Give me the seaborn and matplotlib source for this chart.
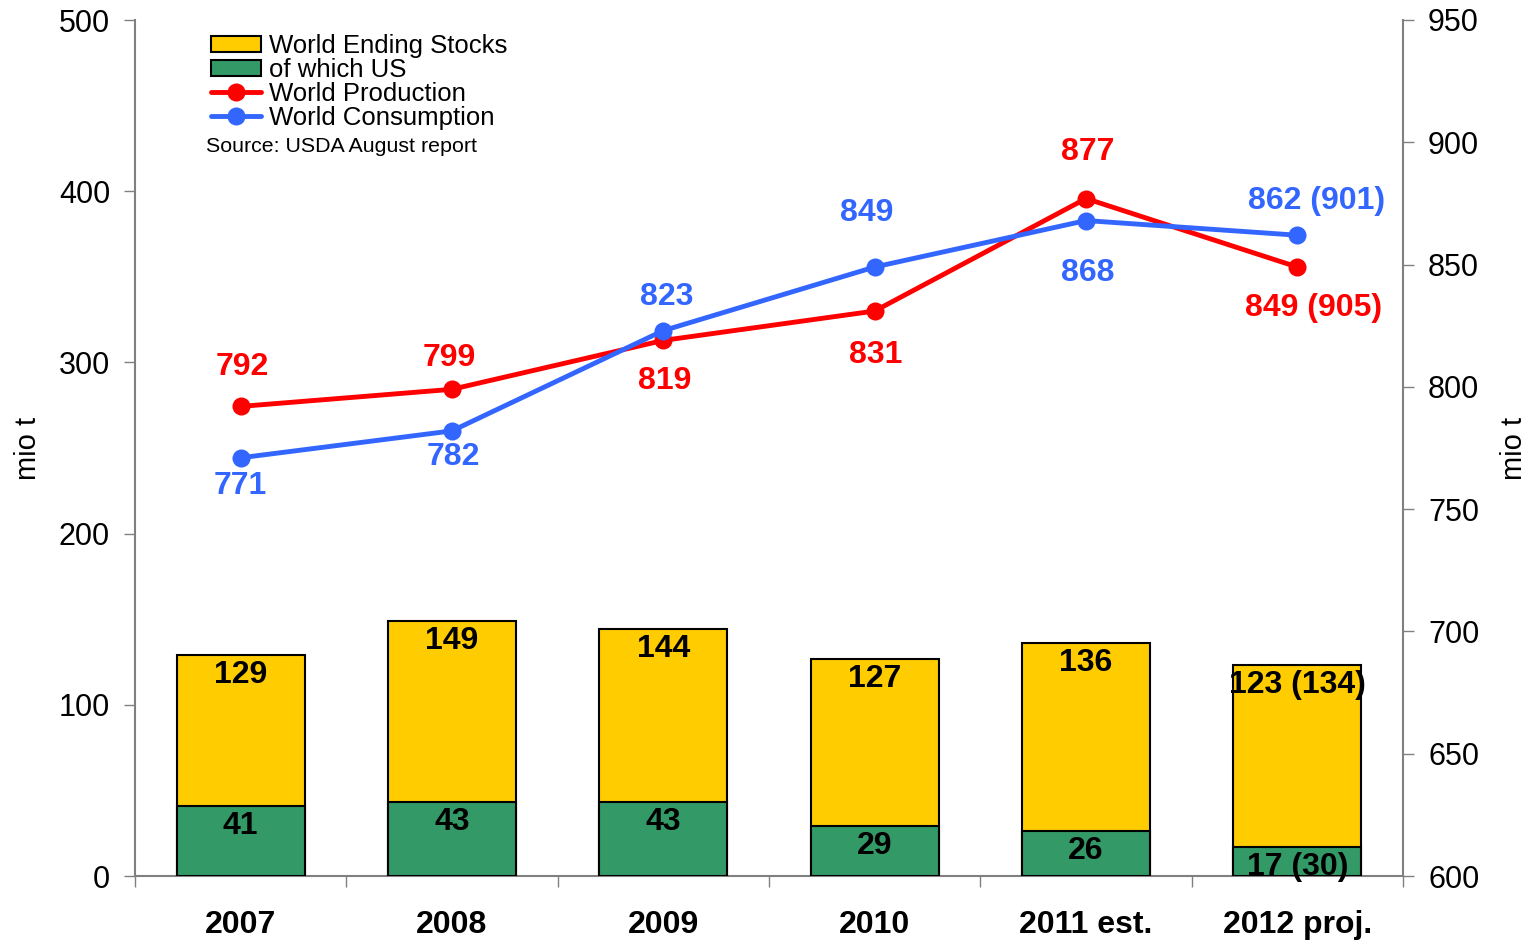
import matplotlib
matplotlib.use("Agg")
import matplotlib.pyplot as plt
import seaborn as sns
import numpy as np
import pandas as pd
from matplotlib.patches import Patch
from matplotlib.lines import Line2D

years = ["2007", "2008", "2009", "2010", "2011 est.", "2012 proj."]
world_stocks = [129, 149, 144, 127, 136, 123]
us_stocks = [41, 43, 43, 29, 26, 17]
world_stock_labels = ["129", "149", "144", "127", "136", "123 (134)"]
us_stock_labels = ["41", "43", "43", "29", "26", "17 (30)"]
production = [792, 799, 819, 831, 877, 849]
consumption = [771, 782, 823, 849, 868, 862]
production_labels = ["792", "799", "819", "831", "877", "849 (905)"]
consumption_labels = ["771", "782", "823", "849", "868", "862 (901)"]

# label offsets in pixels (dx, dy) - layout only
prod_off = [(2, 39), (-3, 31), (1, -41), (1, -44), (2, 47), (16, -41)]
cons_off = [(0, -28), (1, -26), (3, 34), (-8, 54), (2, -52), (19, 34)]

sns.set_theme(style="white")
plt.rcParams['font.family'] = ['Liberation Sans', 'DejaVu Sans']
plt.rcParams['text.color'] = 'black'
plt.rcParams['axes.labelcolor'] = 'black'
plt.rcParams['xtick.color'] = 'black'
plt.rcParams['ytick.color'] = 'black'

YELLOW = "#FFCC00"
GREEN = "#339966"
RED = "#FF0000"
BLUE = "#3366FF"
GREY = "#808080"

FS = 23

fig = plt.figure(figsize=(15.3, 9.4), dpi=100)
ax = fig.add_axes([135/1530, 1-876/940, (1403-135)/1530, (876-20)/940])

df = pd.DataFrame({"year": years, "world": world_stocks, "us": us_stocks})
sns.barplot(data=df, x="year", y="world", color=YELLOW, width=0.605,
            edgecolor="black", linewidth=1.5, saturation=1, ax=ax, zorder=2)
sns.barplot(data=df, x="year", y="us", color=GREEN, width=0.605,
            edgecolor="black", linewidth=1.5, saturation=1, ax=ax, zorder=3)

ax.set_xlim(-0.5, 5.5)
ax.set_ylim(0, 500)
ax.set_yticks([0, 100, 200, 300, 400, 500])
ax.set_xlabel("")
ax.set_ylabel("mio t", fontsize=21, labelpad=12)
ax.set_xticks([])
ax.set_xticks(np.arange(-0.5, 6.0, 1.0), minor=True)
for i, y in enumerate(years):
    ax.text(i, -0.057, y, transform=ax.get_xaxis_transform(), ha="center",
            va="center", fontsize=FS, fontweight="bold")
ax.tick_params(axis="x", which="minor", length=8, width=1, color=GREY, direction="out", bottom=True)
ax.tick_params(axis="y", length=8, width=1, color=GREY, direction="out", left=True,
               labelsize=22, pad=10, labelcolor="black")

for s in ["top", "right"]:
    ax.spines[s].set_visible(False)
for s in ["left", "bottom"]:
    ax.spines[s].set_color(GREY)
    ax.spines[s].set_linewidth(1.5)

for i in range(len(years)):
    ax.annotate(world_stock_labels[i], (i, world_stocks[i]), xytext=(0, -20),
                textcoords="offset pixels", ha="center", va="center",
                fontsize=FS, fontweight="bold", zorder=5)
    ax.annotate(us_stock_labels[i], (i, us_stocks[i]), xytext=(0, -20),
                textcoords="offset pixels", ha="center", va="center",
                fontsize=FS, fontweight="bold", zorder=5)

ax2 = ax.twinx()
ldf = pd.DataFrame({"x": np.arange(len(years)), "prod": production, "cons": consumption})
sns.lineplot(data=ldf, x="x", y="prod", color=RED, linewidth=3.5, marker="o",
             markersize=13, markeredgewidth=0, ax=ax2, zorder=4)
sns.lineplot(data=ldf, x="x", y="cons", color=BLUE, linewidth=3.5, marker="o",
             markersize=13, markeredgewidth=0, ax=ax2, zorder=4)
ax2.set_xlim(-0.5, 5.5)
ax2.set_ylim(600, 950)
ax2.set_yticks(range(600, 951, 50))
ax2.set_xlabel("")
ax2.set_ylabel("mio t", fontsize=21, labelpad=15)
ax2.tick_params(axis="y", length=8, width=1, color=GREY, direction="out", right=True,
                labelsize=22, pad=10, labelcolor="black")
for s in ["top", "left", "bottom"]:
    ax2.spines[s].set_visible(False)
ax2.spines["right"].set_color(GREY)
ax2.spines["right"].set_linewidth(1.5)

for i in range(len(years)):
    dx, dy = prod_off[i]
    ax2.annotate(production_labels[i], (i, production[i]), xytext=(dx, dy),
                 textcoords="offset pixels", ha="center", va="center",
                 fontsize=FS, fontweight="bold", color=RED)
    dx, dy = cons_off[i]
    ax2.annotate(consumption_labels[i], (i, consumption[i]), xytext=(dx, dy),
                 textcoords="offset pixels", ha="center", va="center",
                 fontsize=FS, fontweight="bold", color=BLUE)

handles = [
    Patch(facecolor=YELLOW, edgecolor="black", linewidth=1.5),
    Patch(facecolor=GREEN, edgecolor="black", linewidth=1.5),
    Line2D([], [], color=RED, linewidth=3.5, marker="o", markersize=13, markeredgewidth=0),
    Line2D([], [], color=BLUE, linewidth=3.5, marker="o", markersize=13, markeredgewidth=0),
]
labels = ["World Ending Stocks", "of which US", "World Production", "World Consumption"]
leg = ax2.legend(handles, labels, loc="upper left", bbox_to_anchor=(0.049, 1.0),
                 frameon=False, fontsize=18.5, handlelength=1.95, handleheight=0.62,
                 handletextpad=0.3, labelspacing=0.0, borderpad=0.25, borderaxespad=0.3)
ax2.text(0.056, 0.852, "Source: USDA August report", transform=ax2.transAxes,
         fontsize=15.4, ha="left", va="center")

fig.savefig("out.png", dpi=100)
